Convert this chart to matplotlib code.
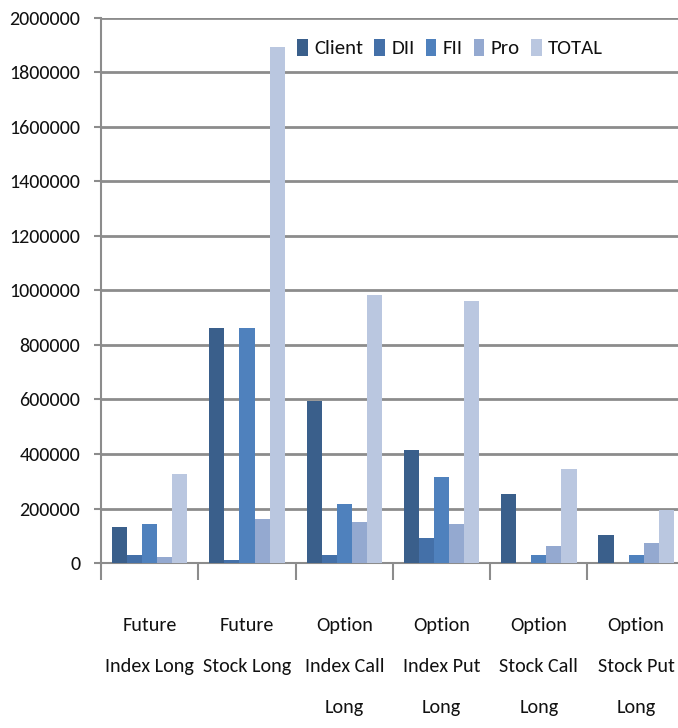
import matplotlib.pyplot as plt
import numpy as np

categories = ['Future\nIndex Long', 'Future\nStock Long', 'Option\nIndex Call\nLong',
              'Option\nIndex Put\nLong', 'Option\nStock Call\nLong', 'Option\nStock Put\nLong']
client = [133000, 861000, 596000, 416000, 254000, 103000]
dii = [31000, 11000, 31000, 93000, 0, 0]
fii = [143000, 861000, 215000, 316000, 31000, 31000]
pro = [23000, 163000, 152000, 143000, 64000, 72000]
total = [326000, 1894000, 982000, 962000, 344000, 195000]

series = [('Client', client, '#3A5F8B'), ('DII', dii, '#4470A8'), ('FII', fii, '#4F81BD'),
          ('Pro', pro, '#94A9D0'), ('TOTAL', total, '#BAC7E0')]

plt.rcParams['font.family'] = ['Carlito', 'DejaVu Sans']
plt.rcParams['text.color'] = '#111111'

fig = plt.figure(figsize=(6.78, 7.28), dpi=100)
ax = fig.add_axes([0.149, 0.2266, 0.861, 0.749])

x = np.arange(len(categories))
w = 0.155
for i, (name, vals, col) in enumerate(series):
    ax.bar(x + (i - 2) * w, vals, w, color=col, label=name, zorder=3)

ax.set_xlim(-0.5, len(categories) - 0.5)
ax.set_ylim(0, 2000000)
ax.set_yticks(np.arange(0, 2000001, 200000))
ax.set_yticklabels([str(v) for v in range(0, 2000001, 200000)], fontsize=14.5)
ax.yaxis.grid(True, color='#8c8c8c', linewidth=2, zorder=0)

ax.set_xticks(x)
ax.set_xticklabels(categories, fontsize=14.5, linespacing=2.72, va='top')
ax.tick_params(axis='x', length=0, pad=39, labelcolor='#111111')
ax.set_xticks(np.arange(-0.5, len(categories)), minor=True)
ax.tick_params(axis='x', which='minor', length=12, width=1.5, color='#8c8c8c')
ax.tick_params(axis='y', length=5, width=1.5, color='#8c8c8c', pad=10, labelcolor='#111111')

for s in ['top', 'right']:
    ax.spines[s].set_visible(False)
for s in ['left', 'bottom']:
    ax.spines[s].set_color('#8c8c8c')
    ax.spines[s].set_linewidth(1.5)

ax.legend(loc='upper center', bbox_to_anchor=(0.598, 1.0), ncol=5, frameon=False,
          fontsize=15, handlelength=0.5, handleheight=0.9, handletextpad=0.3,
          columnspacing=0.55, borderaxespad=0.6)

fig.savefig('out.png', dpi=100)
